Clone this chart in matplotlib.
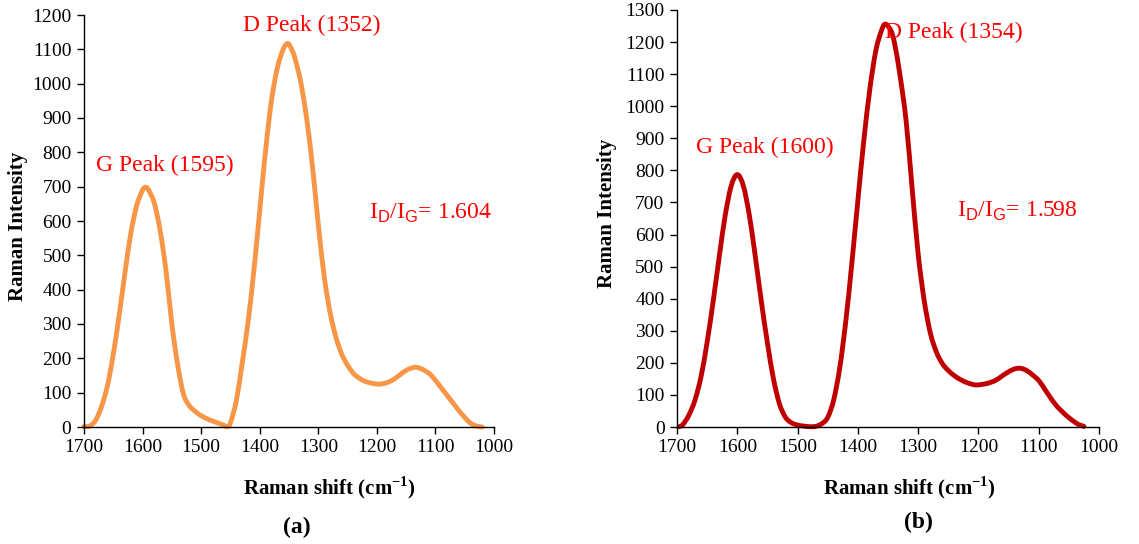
import matplotlib
matplotlib.use("Agg")
import matplotlib.pyplot as plt
from matplotlib.path import Path
from matplotlib.patches import PathPatch
import numpy as np

plt.rcParams['font.family'] = ['Liberation Serif', 'DejaVu Serif']
plt.rcParams['mathtext.fontset'] = 'custom'
plt.rcParams['mathtext.rm'] = 'Liberation Serif'
plt.rcParams['mathtext.bf'] = 'Liberation Serif:bold'
plt.rcParams['mathtext.sf'] = 'Liberation Sans'

# ---------------- data ----------------
shift_a = [1700, 1690, 1680, 1670, 1660, 1650, 1640, 1630, 1620, 1610, 1600, 1595,
           1590, 1580, 1570, 1560, 1550, 1540, 1530, 1520, 1510, 1500, 1490,
           1480, 1470, 1460, 1455, 1450, 1440, 1430, 1420, 1410, 1400, 1390, 1380,
           1370, 1360, 1352, 1345, 1340, 1330, 1320, 1310, 1300, 1290, 1280, 1270,
           1260, 1250, 1240, 1230, 1220, 1210, 1200, 1190, 1180, 1170, 1160, 1150,
           1140, 1133, 1125, 1120, 1110, 1100, 1090, 1080, 1070, 1060, 1050, 1040,
           1030, 1020]
inten_a = [1, 3, 20, 60, 120, 212, 325, 450, 565, 645, 690, 698,
           691, 652, 572, 455, 300, 180, 95, 62, 45, 33, 24,
           17, 11, 4, 1, 12, 76, 185, 305, 455, 630, 805, 950,
           1045, 1100, 1117, 1098, 1075, 1005, 900, 760, 590, 440, 335, 262,
           212, 180, 156, 142, 133, 128, 125, 126, 131, 140, 153, 165,
           172, 174, 170, 166, 155, 136, 114, 92, 70, 48, 28, 11,
           3, 0]

shift_b = [1696, 1690, 1680, 1670, 1660, 1650, 1640, 1630, 1620, 1610, 1600, 1590,
           1580, 1570, 1560, 1550, 1540, 1530, 1520, 1510, 1500, 1490, 1480, 1470,
           1460, 1450, 1440, 1430, 1420, 1410, 1400, 1390, 1380, 1370, 1360, 1354,
           1345, 1339, 1330, 1320, 1310, 1300, 1290, 1280, 1270, 1260, 1250, 1240,
           1230, 1220, 1210, 1203, 1190, 1180, 1170, 1160, 1150, 1140, 1130, 1120,
           1110, 1100, 1090, 1080, 1070, 1060, 1050, 1040, 1035, 1030, 1025]
inten_b = [1, 8, 38, 85, 158, 265, 392, 530, 660, 752, 787, 752,
           660, 530, 390, 262, 150, 72, 30, 13, 6, 3, 1, 2,
           10, 30, 85, 185, 330, 510, 706, 895, 1055, 1175, 1240, 1256,
           1235, 1195, 1095, 955, 745, 540, 395, 295, 235, 198, 176, 160,
           148, 139, 133, 131, 134, 139, 147, 160, 172, 181, 183, 176,
           162, 145, 118, 90, 65, 46, 29, 15, 9, 5, 2]

x_ticks = [1700, 1600, 1500, 1400, 1300, 1200, 1100, 1000]
y_ticks_a = list(range(0, 1201, 100))
y_ticks_b = list(range(0, 1301, 100))

labels_a = ["G Peak (1595)", "D Peak (1352)", "1.604"]
labels_b = ["G Peak (1600)", "D Peak (1354)", "1.598"]

# ---------------- figure ----------------
W, H = 1139, 544
fig = plt.figure(figsize=(W / 100, H / 100), dpi=100)

def px(x, y):
    return x / W, 1 - y / H

def make_axes(x0, x1, y0, y1):
    return fig.add_axes([x0 / W, 1 - y0 / H, (x1 - x0) / W, (y0 - y1) / H])

def smooth_path(xs, ys):
    """Smoothed line through the data points (Bezier segments, like a spreadsheet 'smoothed line')."""
    p = np.column_stack([xs, ys]).astype(float)
    n = len(p)
    verts = [p[0]]
    codes = [Path.MOVETO]
    for i in range(n - 1):
        p0 = p[i - 1] if i > 0 else p[i]
        p1 = p[i]
        p2 = p[i + 1]
        p3 = p[i + 2] if i + 2 < n else p[i + 1]
        c1 = p1 + (p2 - p0) / 6.0
        c2 = p2 - (p3 - p1) / 6.0
        verts += [c1, c2, p2]
        codes += [Path.CURVE4] * 3
    return Path(verts, codes)

ax_a = make_axes(84, 494, 427, 15)
ax_b = make_axes(677, 1099, 427, 10)

red = '#FF0000'

for ax, xs, ys, col, yt in [(ax_a, shift_a, inten_a, '#F79646', y_ticks_a),
                            (ax_b, shift_b, inten_b, '#C00000', y_ticks_b)]:
    patch = PathPatch(smooth_path(xs, ys), facecolor='none', edgecolor=col, lw=3.5,
                      joinstyle='round', capstyle='round', clip_on=False)
    ax.add_patch(patch)
    ax.set_xlim(1700, 1000)
    ax.set_ylim(0, yt[-1])
    ax.set_xticks(x_ticks)
    ax.set_yticks(yt)
    ax.spines['top'].set_visible(False)
    ax.spines['right'].set_visible(False)
    for s in ['left', 'bottom']:
        ax.spines[s].set_linewidth(1.0)
    ax.tick_params(direction='out', length=5, width=1.0, labelsize=14, pad=4)

# axis labels
for xc, yc in [(18, 226), (607, 213)]:
    fig.text(*px(xc, yc), "Raman Intensity", rotation=90, ha='center', va='center',
             fontsize=15, fontweight='bold')
for xc in [329, 909]:
    fig.text(*px(xc, 488), r"Raman shift (cm$^{\mathbf{-1}}$)", ha='center', va='center',
             fontsize=15, fontweight='bold')
fig.text(*px(297, 527), "(a)", ha='center', va='center', fontsize=17, fontweight='bold')
fig.text(*px(918, 522), "(b)", ha='center', va='center', fontsize=17, fontweight='bold')

# annotations
fs = 17
fig.text(*px(165, 165), labels_a[0], ha='center', va='center', fontsize=fs, color=red)
fig.text(*px(312, 25), labels_a[1], ha='center', va='center', fontsize=fs, color=red)
fig.text(*px(369, 213), r"I$_{\mathsf{D}}$/I$_{\mathsf{G}}$= " + labels_a[2],
         ha='left', va='center', fontsize=fs, color=red)

fig.text(*px(765, 147), labels_b[0], ha='center', va='center', fontsize=fs, color=red)
fig.text(*px(885, 32), labels_b[1], ha='left', va='center', fontsize=fs, color=red)
fig.text(*px(957, 211), r"I$_{\mathsf{D}}$/I$_{\mathsf{G}}$= " + labels_b[2],
         ha='left', va='center', fontsize=fs, color=red)

fig.savefig("out.png", dpi=100)
